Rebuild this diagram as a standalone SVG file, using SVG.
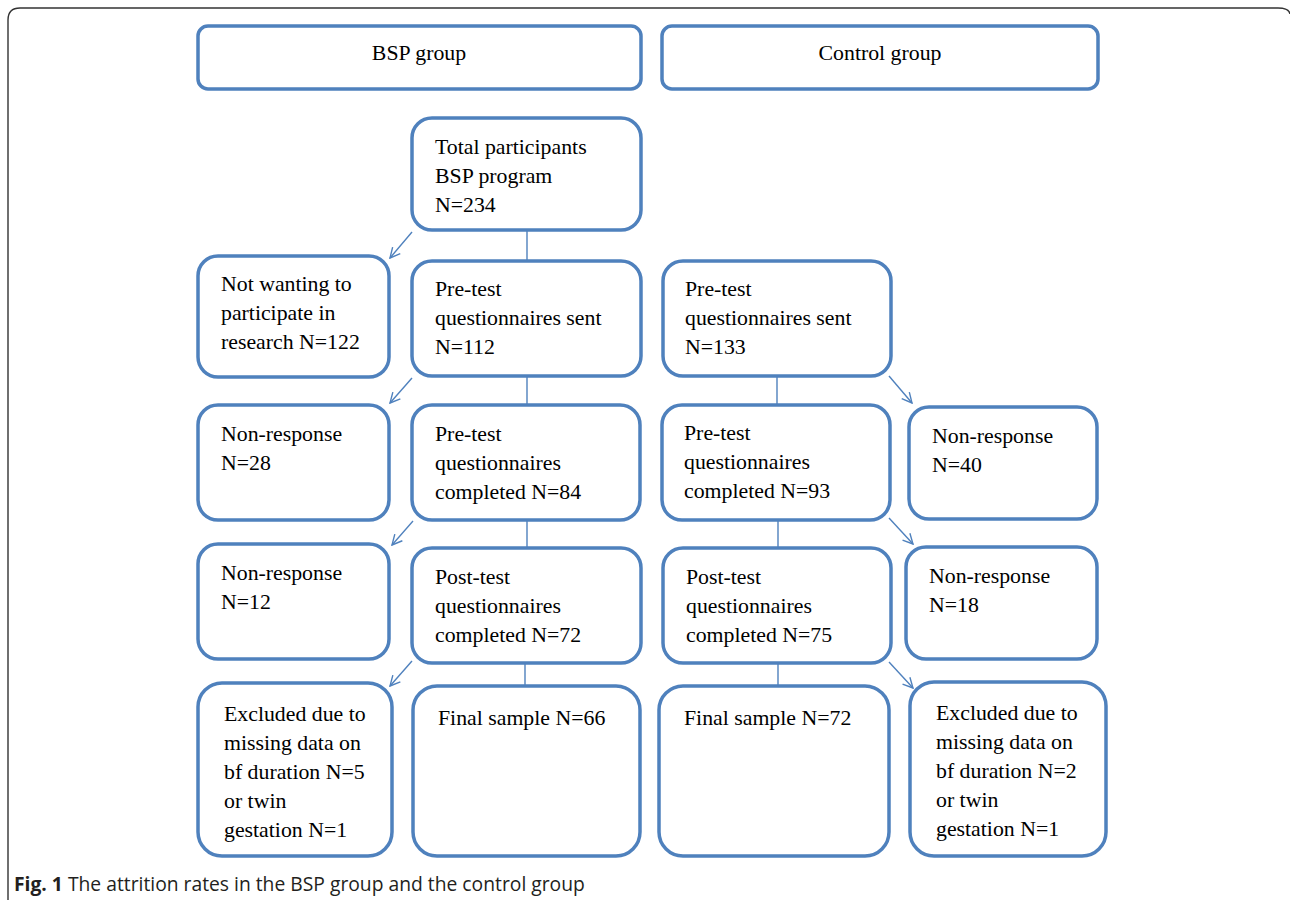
<svg xmlns="http://www.w3.org/2000/svg" width="1290" height="900" viewBox="0 0 1290 900">
<defs>
<style>
.box{fill:#fff;stroke:#4f81bd;stroke-width:3.5}
.t{font-family:"Liberation Serif","Times New Roman",serif;font-size:21.8px;fill:#000}
.c{stroke:#4f81bd;stroke-width:1.4;fill:none}
.cap{font-family:"Open Sans","Liberation Sans",sans-serif;font-size:19.3px;fill:#231f20}
</style>
<marker id="ah" viewBox="0 0 12 12" refX="11" refY="6" markerWidth="12" markerHeight="12" markerUnits="userSpaceOnUse" orient="auto">
<path d="M1,1 L11,6 L1,11" fill="none" stroke="#4f81bd" stroke-width="1.4"/>
</marker>
</defs>
<rect width="1290" height="900" fill="#fff"/>
<path d="M8,900 L8,20 Q8,8 20,8 L1278,8 Q1289,8 1290,14" fill="none" stroke="#333" stroke-width="1.4"/>

<g id="connectors">
<line class="c" x1="527" y1="230" x2="527" y2="261"/>
<line class="c" x1="527" y1="376" x2="527" y2="405"/>
<line class="c" x1="527" y1="520" x2="527" y2="548"/>
<line class="c" x1="525" y1="663" x2="525" y2="686"/>
<line class="c" x1="777" y1="376" x2="777" y2="405"/>
<line class="c" x1="778" y1="520" x2="778" y2="548"/>
<line class="c" x1="778" y1="663" x2="778" y2="686"/>
<line class="c" x1="412" y1="232" x2="390" y2="258" marker-end="url(#ah)"/>
<line class="c" x1="412" y1="378" x2="390" y2="403" marker-end="url(#ah)"/>
<line class="c" x1="413" y1="521" x2="392" y2="545" marker-end="url(#ah)"/>
<line class="c" x1="412" y1="661" x2="390" y2="686" marker-end="url(#ah)"/>
<line class="c" x1="889" y1="376" x2="912" y2="403" marker-end="url(#ah)"/>
<line class="c" x1="889" y1="518" x2="913" y2="544" marker-end="url(#ah)"/>
<line class="c" x1="889" y1="662" x2="913" y2="688" marker-end="url(#ah)"/>
</g>

<g id="bsp-group"><rect class="box" x="198" y="26" width="443" height="63" rx="10"/><text class="t" x="419" y="60" text-anchor="middle">BSP group</text></g>
<g id="control-group"><rect class="box" x="662" y="26" width="436" height="63" rx="10"/><text class="t" x="880" y="60" text-anchor="middle">Control group</text></g>

<g id="total"><rect class="box" x="412" y="118" width="229" height="112" rx="20"/>
<text class="t" x="435" y="154">Total participants</text><text class="t" x="435" y="183">BSP program</text><text class="t" x="435" y="212">N=234</text></g>

<g id="not-wanting"><rect class="box" x="198" y="256" width="191" height="121" rx="20"/>
<text class="t" x="221" y="291">Not wanting to</text><text class="t" x="221" y="320">participate in</text><text class="t" x="221" y="349">research N=122</text></g>

<g id="pre-sent-bsp"><rect class="box" x="412" y="261" width="229" height="115" rx="20"/>
<text class="t" x="435" y="296">Pre-test</text><text class="t" x="435" y="325">questionnaires sent</text><text class="t" x="435" y="354">N=112</text></g>

<g id="pre-sent-ctrl"><rect class="box" x="663" y="261" width="228" height="115" rx="20"/>
<text class="t" x="685" y="296">Pre-test</text><text class="t" x="685" y="325">questionnaires sent</text><text class="t" x="685" y="354">N=133</text></g>

<g id="nr-28"><rect class="box" x="198" y="405" width="191" height="115" rx="20"/>
<text class="t" x="221" y="441">Non-response</text><text class="t" x="221" y="470">N=28</text></g>

<g id="pre-comp-bsp"><rect class="box" x="412" y="405" width="228" height="115" rx="20"/>
<text class="t" x="435" y="441">Pre-test</text><text class="t" x="435" y="470">questionnaires</text><text class="t" x="435" y="499">completed N=84</text></g>

<g id="pre-comp-ctrl"><rect class="box" x="662" y="405" width="228" height="115" rx="20"/>
<text class="t" x="684" y="440">Pre-test</text><text class="t" x="684" y="469">questionnaires</text><text class="t" x="684" y="498">completed N=93</text></g>

<g id="nr-40"><rect class="box" x="909" y="407" width="188" height="112" rx="20"/>
<text class="t" x="932" y="443">Non-response</text><text class="t" x="932" y="472">N=40</text></g>

<g id="nr-12"><rect class="box" x="198" y="544" width="191" height="115" rx="20"/>
<text class="t" x="221" y="580">Non-response</text><text class="t" x="221" y="609">N=12</text></g>

<g id="post-bsp"><rect class="box" x="412" y="548" width="229" height="115" rx="20"/>
<text class="t" x="435" y="584">Post-test</text><text class="t" x="435" y="613">questionnaires</text><text class="t" x="435" y="642">completed N=72</text></g>

<g id="post-ctrl"><rect class="box" x="663" y="548" width="228" height="115" rx="20"/>
<text class="t" x="686" y="584">Post-test</text><text class="t" x="686" y="613">questionnaires</text><text class="t" x="686" y="642">completed N=75</text></g>

<g id="nr-18"><rect class="box" x="906" y="547" width="191" height="112" rx="20"/>
<text class="t" x="929" y="583">Non-response</text><text class="t" x="929" y="612">N=18</text></g>

<g id="excl-bsp"><rect class="box" x="198" y="683" width="194" height="173" rx="24"/>
<text class="t" x="224" y="721">Excluded due to</text><text class="t" x="224" y="750">missing data on</text><text class="t" x="224" y="779">bf duration N=5</text><text class="t" x="224" y="808">or twin</text><text class="t" x="224" y="837">gestation N=1</text></g>

<g id="final-bsp"><rect class="box" x="413" y="686" width="227" height="170" rx="24"/>
<text class="t" x="438" y="725">Final sample N=66</text></g>

<g id="final-ctrl"><rect class="box" x="659" y="686" width="230" height="170" rx="24"/>
<text class="t" x="684" y="725">Final sample N=72</text></g>

<g id="excl-ctrl"><rect class="box" x="910" y="682" width="196" height="174" rx="24"/>
<text class="t" x="936" y="720">Excluded due to</text><text class="t" x="936" y="749">missing data on</text><text class="t" x="936" y="778">bf duration N=2</text><text class="t" x="936" y="807">or twin</text><text class="t" x="936" y="836">gestation N=1</text></g>

<text class="cap" x="14" y="891"><tspan font-weight="bold">Fig. 1</tspan> The attrition rates in the BSP group and the control group</text>
</svg>
